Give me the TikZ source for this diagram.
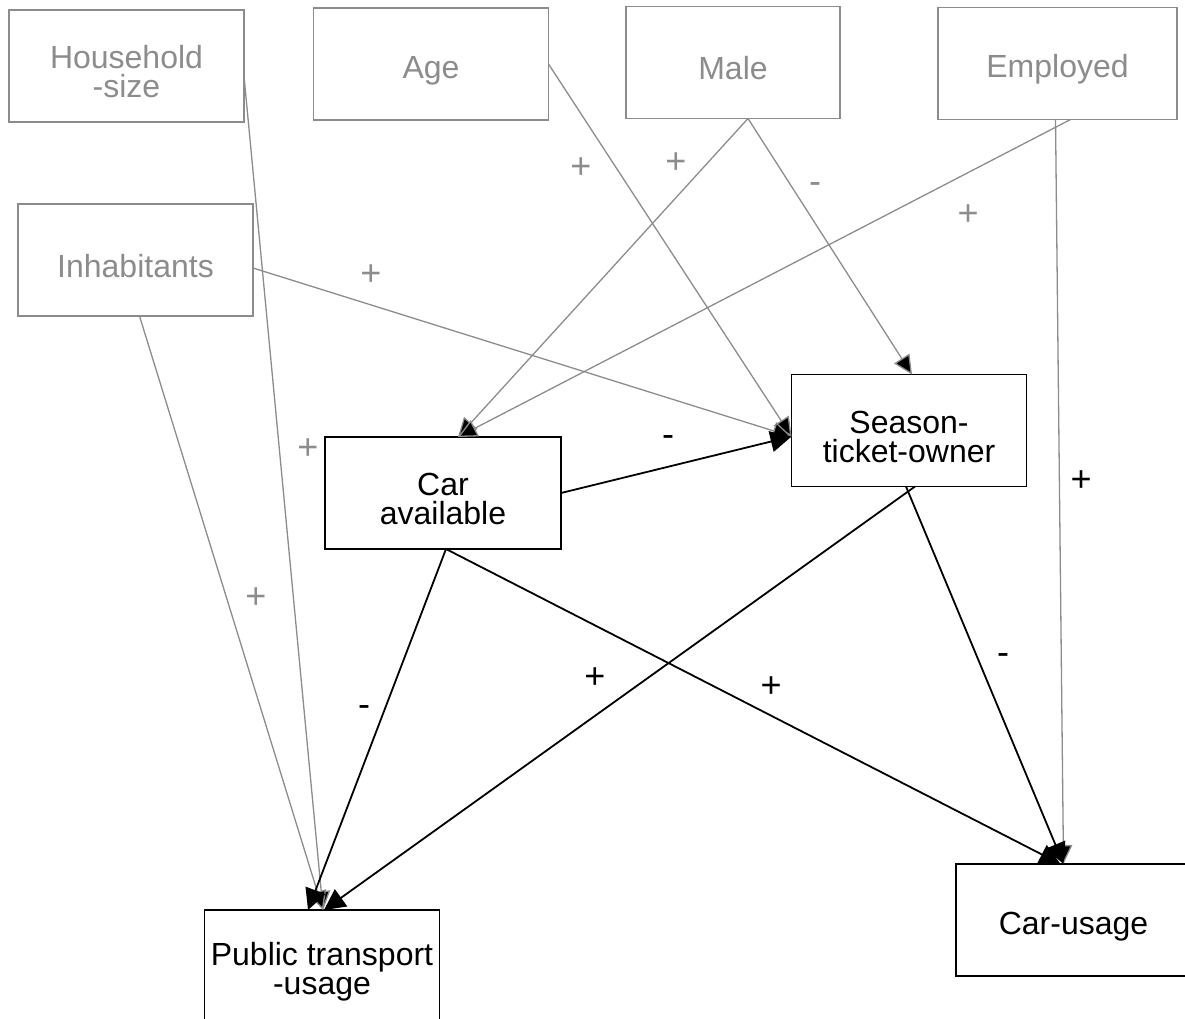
\documentclass[tikz,border=0pt]{standalone}
\usepackage{fontspec}
\setmainfont{Liberation Sans}
\usetikzlibrary{arrows.meta}
\definecolor{gr}{HTML}{8C8C8C}
\newcommand{\lowerstrut}{\rule{0pt}{35pt}}
\begin{document}
\begin{tikzpicture}[x=1pt,y=-1pt,
  gbox/.style={draw=gr, text=gr, line width=1.3pt, minimum width=235pt, minimum height=112pt,
    inner sep=0pt, outer sep=0pt, align=center, font=\fontsize{32}{29}\selectfont},
  bbox/.style={gbox, draw=black, text=black},
  garr/.style={draw=gr, line width=1.3pt, line join=round,
    -{Triangle[length=19pt,width=18pt,fill=black]}},
  barr/.style={draw=black, line width=1.8pt, line join=round,
    -{Triangle[length=21pt,width=21pt,fill=black]}},
  glab/.style={text=gr, font=\fontsize{36}{36}\selectfont, inner sep=0pt},
  blab/.style={text=black, font=\fontsize{36}{36}\selectfont, inner sep=0pt}]
\useasboundingbox (0,0) rectangle (1185,1018);

% exogenous
\node[gbox] (hh) at (126.5,66) {\lowerstrut Household\\-size};
\node[gbox] (age) at (431,64) {\lowerstrut Age};
\node[gbox, minimum width=214pt] (male) at (733,62.5) {\lowerstrut Male};
\node[gbox, minimum width=239pt] (emp) at (1057.5,63.5) {\lowerstrut Employed};
\node[gbox] (inh) at (135.5,260) {\lowerstrut Inhabitants};

% endogenous
\node[bbox] (st) at (909,430.5) {\lowerstrut Season-\\ticket-owner};
\node[bbox, minimum width=236pt] (car) at (443,493) {\lowerstrut Car\\available};
\node[bbox] (pt) at (322,966) {\lowerstrut Public transport\\-usage};
\node[bbox] (cu) at (1073.5,920) {\lowerstrut Car-usage};

% gray connectors
\draw[garr] ([yshift=-10pt]hh.east) -- ([xshift=1pt]pt.north);
\draw[garr] (age.east) -- ([yshift=-6pt]st.west);
\draw[garr] ([xshift=15pt]male.south) -- ([xshift=15pt]car.north);
\draw[garr] ([xshift=15pt]male.south) -- ([xshift=3pt]st.north);
\draw[garr] ([xshift=13pt]emp.south) -- ([xshift=15pt]car.north);
\draw[garr] ([xshift=-2pt]emp.south) -- ([xshift=-10pt]cu.north);
\draw[garr] ([yshift=-8pt]inh.east) -- ([yshift=-6pt]st.west);
\draw[garr] ([xshift=4pt]inh.south) -- ([xshift=1pt]pt.north);

% black connectors
\draw[barr] (car.east) -- ([yshift=-6pt]st.west);
\draw[barr] ([xshift=3pt]car.south) -- ([xshift=-14pt]pt.north);
\draw[barr] ([xshift=3pt]car.south) -- ([xshift=-13pt]cu.north);
\draw[barr] ([xshift=6pt]st.south) -- ([xshift=2pt]pt.north);
\draw[barr] ([xshift=-3pt]st.south) -- ([xshift=-10pt]cu.north);

% labels
\node[glab] (l1) at (581,168) {+};
\node[glab] (l2) at (676,163) {+};
\node[glab] (l3) at (815,188) {-};
\node[glab] (l4) at (968,215) {+};
\node[glab] (l5) at (371,275) {+};
\node[glab] (l6) at (308,449) {+};
\node[glab] (l7) at (256,598) {+};
\node[blab] (l8) at (668,441) {-};
\node[blab] (l9) at (1081,481) {+};
\node[blab] (l10) at (595,678) {+};
\node[blab] (l11) at (771,687) {+};
\node[blab] (l12) at (364,711) {-};
\node[blab] (l13) at (1003,659) {-};
\end{tikzpicture}
\end{document}
